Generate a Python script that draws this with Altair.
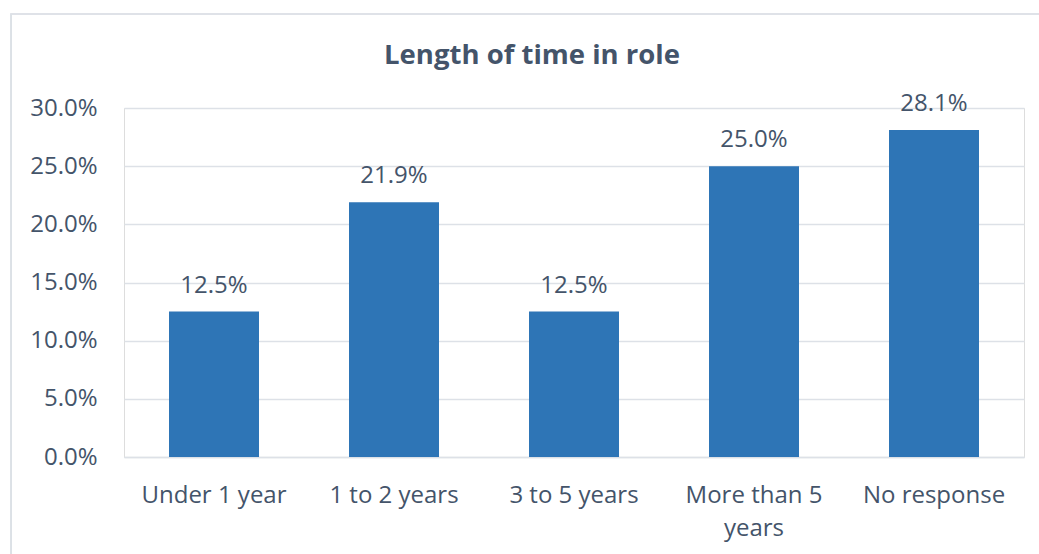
import altair as alt
import pandas as pd

categories = ["Under 1 year", "1 to 2 years", "3 to 5 years", "More than 5 years", "No response"]
values = [0.125, 0.219, 0.125, 0.250, 0.281]
y_ticks = [0.0, 0.05, 0.10, 0.15, 0.20, 0.25, 0.30]

df = pd.DataFrame({"category": categories, "value": values})

FONT = "Open Sans"
TXT = "#44546A"
GRID = "#DDE1E7"

base = alt.Chart(df)

border = base.mark_rect(fillOpacity=0, stroke=GRID, strokeWidth=1.2).encode(
    x=alt.value(-113), x2=alt.value(1100), y=alt.value(-94), y2=alt.value(600)
)

x_enc = alt.X(
    "category:N", sort=categories, title=None,
    scale=alt.Scale(paddingInner=0.5, paddingOuter=0.25),
    axis=alt.Axis(
        labelAngle=0, ticks=False, domain=True, domainColor=GRID, domainWidth=1.5,
        labelFont=FONT, labelFontSize=24, labelColor=TXT, labelPadding=26,
        labelLineHeight=33, labelLimit=300,
        labelExpr="datum.value == 'More than 5 years' ? ['More than 5', 'years'] : datum.value",
    ),
)
y_enc = alt.Y(
    "value:Q", title=None,
    scale=alt.Scale(domain=[0, 0.30], nice=False),
    axis=alt.Axis(
        values=y_ticks, format=".1%", ticks=False, domain=False,
        grid=True, gridColor=GRID, gridWidth=1.5,
        labelFont=FONT, labelFontSize=24, labelColor=TXT, labelPadding=27,
    ),
)

bars = base.mark_bar(color="#2E75B6").encode(x=x_enc, y=y_enc)
labels = base.mark_text(
    font=FONT, fontSize=24, color=TXT, baseline="alphabetic", dy=-19
).encode(x=alt.X("category:N", sort=categories), y="value:Q", text=alt.Text("value:Q", format=".1%"))

chart = alt.layer(border, bars, labels).properties(
    width=900, height=349,
    title=alt.TitleParams(
        "Length of time in role", font=FONT, fontSize=27.5, fontWeight="bold", color=TXT,
        anchor="middle", baseline="alphabetic", offset=-78, dx=-42,
    ),
    autosize=alt.AutoSizeParams(type="none"),
    padding={"left": 124, "top": 108, "right": 15, "bottom": 97},
).configure_view(stroke=None).configure(background="white")

chart.save("out.html", embed_options={"renderer": "svg", "actions": False})
